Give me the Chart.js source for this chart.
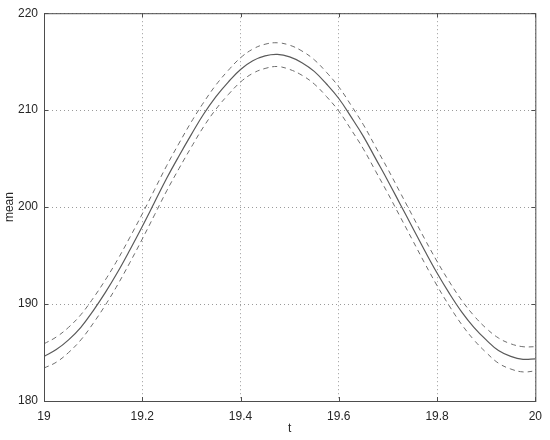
<!DOCTYPE html>
<html>
<head>
<meta charset="utf-8">
<script src="https://cdn.jsdelivr.net/npm/chart.js@4"></script>
<style>
  html, body { margin: 0; padding: 0; background: #fff; }
  #wrap { width: 550px; height: 440px; }
</style>
</head>
<body>
<div id="wrap"><canvas id="meanChart" width="550" height="440"></canvas></div>
<script>
const tValues = [
  19.000, 19.025, 19.050, 19.075, 19.100, 19.125, 19.150, 19.175, 19.200, 19.225,
  19.250, 19.275, 19.300, 19.325, 19.350, 19.375, 19.400, 19.425, 19.450, 19.475,
  19.500, 19.525, 19.550, 19.575, 19.600, 19.625, 19.650, 19.675, 19.700, 19.725,
  19.750, 19.775, 19.800, 19.825, 19.850, 19.875, 19.900, 19.925, 19.950, 19.975,
  20.000
];
const meanValues = [
  184.6, 185.3, 186.3, 187.6, 189.3, 191.2, 193.3, 195.6, 198.0, 200.5,
  203.0, 205.3, 207.5, 209.6, 211.4, 212.9, 214.2, 215.1, 215.6, 215.75,
  215.5, 214.9, 214.0, 212.7, 211.2, 209.3, 207.3, 205.0, 202.7, 200.3,
  197.9, 195.5, 193.2, 191.1, 189.2, 187.6, 186.3, 185.2, 184.6, 184.3,
  184.35
];
const upperValues = [
  185.9, 186.6, 187.6, 188.9, 190.6, 192.5, 194.6, 196.9, 199.3, 201.8,
  204.3, 206.6, 208.8, 210.8, 212.6, 214.1, 215.4, 216.3, 216.8, 216.95,
  216.7, 216.1, 215.2, 213.9, 212.4, 210.5, 208.5, 206.2, 203.9, 201.5,
  199.1, 196.7, 194.4, 192.3, 190.4, 188.8, 187.5, 186.5, 185.9, 185.6,
  185.6
];
const lowerValues = [
  183.4, 184.0, 185.0, 186.3, 188.0, 189.9, 192.0, 194.3, 196.7, 199.2,
  201.7, 204.0, 206.2, 208.3, 210.1, 211.6, 212.9, 213.8, 214.3, 214.5,
  214.2, 213.6, 212.7, 211.4, 209.9, 208.0, 206.0, 203.7, 201.4, 199.0,
  196.6, 194.2, 191.9, 189.8, 187.9, 186.3, 185.0, 183.9, 183.3, 183.0,
  183.1
];
const xTickLabels = ["19", "19.2", "19.4", "19.6", "19.8", "20"];
const yTickLabels = ["180", "190", "200", "210", "220"];

const toPoints = (ys) => tValues.map((t, i) => ({ x: t, y: ys[i] }));

// full box round the plot area plus small inward tick marks
const boxPlugin = {
  id: "box",
  afterDraw(chart) {
    const { ctx, chartArea, scales } = chart;
    const { left, right, top, bottom } = chartArea;
    ctx.save();
    ctx.strokeStyle = "#4d4d4d";
    ctx.lineWidth = 1;
    ctx.strokeRect(left + 0.5, top + 0.5, right - left, bottom - top);
    ctx.beginPath();
    scales.x.ticks.forEach((tick) => {
      const px = Math.round(scales.x.getPixelForValue(tick.value)) + 0.5;
      ctx.moveTo(px, bottom); ctx.lineTo(px, bottom - 4);
      ctx.moveTo(px, top); ctx.lineTo(px, top + 4);
    });
    scales.y.ticks.forEach((tick) => {
      const py = Math.round(scales.y.getPixelForValue(tick.value)) + 0.5;
      ctx.moveTo(left, py); ctx.lineTo(left + 4, py);
      ctx.moveTo(right, py); ctx.lineTo(right - 4, py);
    });
    ctx.stroke();
    ctx.restore();
  },
};

const tickFont = { family: "'Liberation Sans', Arial, sans-serif", size: 12 };

new Chart(document.getElementById("meanChart"), {
  type: "line",
  data: {
    datasets: [
      {
        label: "upper",
        data: toPoints(upperValues),
        borderColor: "#6e6e6e",
        borderWidth: 1,
        borderDash: [5, 4],
        pointRadius: 0,
        tension: 0.4,
      },
      {
        label: "mean",
        data: toPoints(meanValues),
        borderColor: "#5a5a5a",
        borderWidth: 1.2,
        pointRadius: 0,
        tension: 0.4,
      },
      {
        label: "lower",
        data: toPoints(lowerValues),
        borderColor: "#6e6e6e",
        borderWidth: 1,
        borderDash: [5, 4],
        pointRadius: 0,
        tension: 0.4,
      },
    ],
  },
  options: {
    responsive: false,
    animation: false,
    layout: { padding: { top: 13, right: 13, left: 0, bottom: 0 } },
    plugins: { legend: { display: false }, tooltip: { enabled: false } },
    scales: {
      x: {
        type: "linear",
        min: 19,
        max: 20,
        ticks: {
          stepSize: 0.2,
          color: "#262626",
          font: tickFont,
          padding: 8,
          maxRotation: 0,
          callback: (v, i) => xTickLabels[i],
        },
        grid: {
          color: "#9a9a9a",
          lineWidth: 1,
          drawTicks: false,
        },
        border: { display: false, dash: [1, 3] },
        title: {
          display: true,
          text: "t",
          color: "#262626",
          font: tickFont,
          padding: { top: 0, bottom: 4 },
        },
        afterFit: (scale) => { scale.height = 39; },
      },
      y: {
        min: 180,
        max: 220,
        ticks: {
          stepSize: 10,
          color: "#262626",
          font: tickFont,
          padding: 6,
          callback: (v, i) => yTickLabels[i],
        },
        grid: {
          color: "#9a9a9a",
          lineWidth: 1,
          drawTicks: false,
        },
        border: { display: false, dash: [1, 3] },
        title: {
          display: true,
          text: "mean",
          color: "#262626",
          font: tickFont,
          padding: { top: 2, bottom: 0 },
        },
        afterFit: (scale) => { scale.width = 44; },
      },
    },
  },
  plugins: [boxPlugin],
});
</script>
</body>
</html>
